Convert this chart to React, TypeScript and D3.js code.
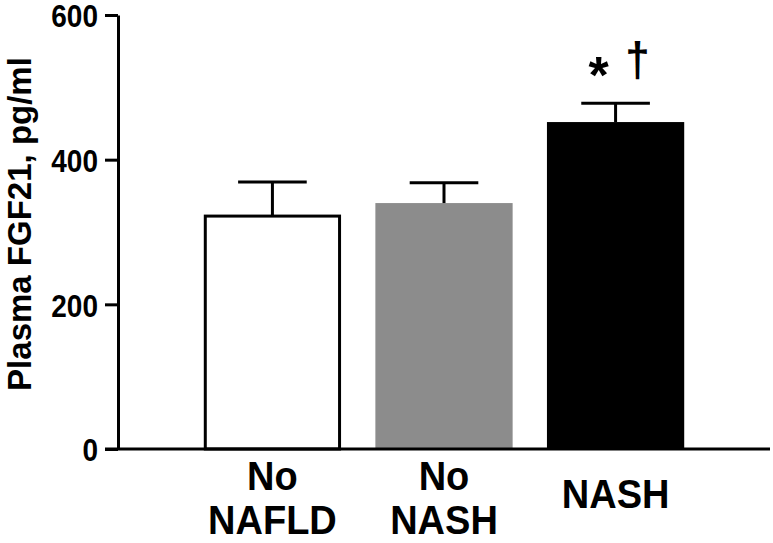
import React, { useRef, useEffect } from "react";
import * as d3 from "d3";

const groups = ["No NAFLD", "No NASH", "NASH"];
const labelLines = [["No", "NAFLD"], ["No", "NASH"], ["NASH"]];
const means = [322, 340, 452];
const errors = [47, 28, 26];
const fills = ["#ffffff", "#8c8c8c", "#000000"];
const yTicks = [0, 200, 400, 600];

export default function App() {
  const svgRef = useRef<SVGSVGElement>(null);

  useEffect(() => {
    const svg = d3.select(svgRef.current);
    svg.selectAll("*").remove();
    const left = 118,
      right = 770,
      top = 15,
      bottom = 449;
    const font = "'Liberation Sans', Arial, sans-serif";

    const x = d3
      .scaleBand<string>()
      .domain(groups)
      .range([left, right])
      .paddingInner(0.2)
      .paddingOuter(0.5);
    const y = d3.scaleLinear().domain([0, 600]).range([bottom, top]);

    // bars
    svg
      .append("g")
      .selectAll("rect")
      .data(groups)
      .join("rect")
      .attr("x", (d, i) => x(d)! + (i === 0 ? 1.5 : 0))
      .attr("width", (d, i) => x.bandwidth() - (i === 0 ? 3 : 0))
      .attr("y", (d, i) => y(means[i]))
      .attr("height", (d, i) => bottom - y(means[i]))
      .attr("fill", (d, i) => fills[i])
      .attr("stroke", (d, i) => (i === 0 ? "#000" : "none"))
      .attr("stroke-width", 3);

    // error bars
    const eb = svg.append("g").attr("stroke", "#000").attr("stroke-width", 3);
    groups.forEach((g, i) => {
      const cx = x(g)! + x.bandwidth() / 2;
      const cap = x.bandwidth() / 4;
      eb.append("line")
        .attr("x1", cx)
        .attr("x2", cx)
        .attr("y1", y(means[i]))
        .attr("y2", y(means[i] + errors[i]));
      eb.append("line")
        .attr("x1", cx - cap)
        .attr("x2", cx + cap)
        .attr("y1", y(means[i] + errors[i]))
        .attr("y2", y(means[i] + errors[i]));
    });

    // y axis (labels drawn separately, slightly stretched like the original)
    const ya = svg
      .append("g")
      .attr("transform", `translate(${left},0)`)
      .call(
        d3
          .axisLeft(y)
          .tickValues(yTicks)
          .tickSize(13)
          .tickFormat(() => "")
          .tickSizeOuter(0)
      );
    ya.select(".domain").attr("stroke", "#000").attr("stroke-width", 3);
    ya.selectAll(".tick line").attr("stroke", "#000").attr("stroke-width", 3);

    svg
      .append("g")
      .selectAll("text")
      .data(yTicks)
      .join("text")
      .attr("transform", (d) => `translate(98,${y(d) + 1}) scale(1,1.12)`)
      .attr("dy", "0.36em")
      .attr("text-anchor", "end")
      .attr("font-family", font)
      .attr("font-weight", "bold")
      .attr("font-size", 28)
      .attr("fill", "#000")
      .text((d) => d);

    // x baseline
    svg
      .append("line")
      .attr("x1", left - 13)
      .attr("x2", right)
      .attr("y1", bottom)
      .attr("y2", bottom)
      .attr("stroke", "#000")
      .attr("stroke-width", 3);

    // category labels
    groups.forEach((g, i) => {
      const cx = x(g)! + x.bandwidth() / 2;
      const lines = labelLines[i];
      const ys = lines.length === 2 ? [490, 534] : [508];
      lines.forEach((ln, j) => {
        svg
          .append("text")
          .attr("transform", `translate(${cx},${ys[j]}) scale(1,1.06)`)
          .attr("text-anchor", "middle")
          .attr("font-family", font)
          .attr("font-weight", "bold")
          .attr("font-size", 38)
          .attr("fill", "#000")
          .text(ln);
      });
    });

    // significance markers
    const cx3 = x("NASH")! + x.bandwidth() / 2;
    svg
      .append("text")
      .attr("x", cx3 - 17)
      .attr("y", 93)
      .attr("text-anchor", "middle")
      .attr("font-family", font)
      .attr("font-weight", "bold")
      .attr("font-size", 52)
      .text("*");
    svg
      .append("text")
      .attr("transform", `translate(${cx3 + 22},76) scale(1.1,1.2)`)
      .attr("text-anchor", "middle")
      .attr("font-family", font)
      .attr("font-weight", "bold")
      .attr("font-size", 40)
      .text("†");

    // y title
    svg
      .append("text")
      .attr("transform", `translate(31,224) rotate(-90)`)
      .attr("text-anchor", "middle")
      .attr("font-family", font)
      .attr("font-weight", "bold")
      .attr("font-size", 33)
      .attr("fill", "#000")
      .text("Plasma FGF21, pg/ml");
  }, []);

  return (
    <svg
      ref={svgRef}
      width={773}
      height={543}
      style={{ position: "absolute", left: 0, top: 0, background: "#fff" }}
    ></svg>
  );
}
